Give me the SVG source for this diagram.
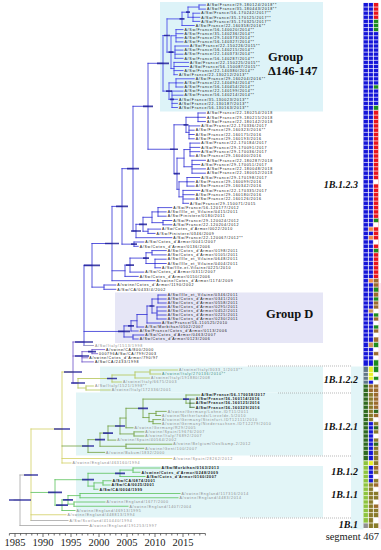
<svg xmlns="http://www.w3.org/2000/svg" width="381" height="550" viewBox="0 0 381 550">
<style>
.t{font-family:"Liberation Sans",Arial,sans-serif;font-size:3.6px;letter-spacing:0.7px;fill:#111}
.gr{fill:#8a8a8a}
.tl{fill:#3a8a78}
.b{font-weight:bold;letter-spacing:0.6px}
.cl{font-family:"Liberation Serif","Times New Roman",serif;font-weight:bold;font-style:italic;font-size:10px;fill:#111;text-anchor:end}
.gp{font-family:"Liberation Serif","Times New Roman",serif;font-weight:bold;font-size:12.5px;fill:#111}
.ax{font-family:"Liberation Serif","Times New Roman",serif;font-size:10.5px;fill:#222;text-anchor:middle}
.br{fill:none;stroke-width:0.8;stroke-linecap:square}
.hpd{fill:none;stroke:#23239a;stroke-width:1.7;stroke-opacity:0.85}
.dot{fill:none;stroke:#8a8a8a;stroke-width:0.6;stroke-dasharray:1 1}
</style>
<rect width="381" height="550" fill="#fff"/>
<g id="background">
<rect x="160" y="2" width="163" height="109.5" fill="#ddf3f8"/>
<rect x="115" y="292.5" width="208" height="50.5" fill="#e6e6f6"/>
<rect x="100" y="366.5" width="223" height="26" fill="#e2f5f7"/>
<rect x="76" y="392.5" width="247" height="63" fill="#e2f5f7"/>
<rect x="76" y="466" width="247" height="51.5" fill="#e2f5f7"/>
<rect x="351" y="366.5" width="12.5" height="163" fill="#e2f5f7"/>
<rect x="378.3" y="283" width="2.7" height="246" fill="#fde6ef"/>
</g>
<g id="connectors">
<path class="br" stroke="#3c3ce6" d="M199 5H205.4M199 9.1H205.4M199 5V9.1M193 13.2H199.8M193 17.3H199.8M193 21.4H199.8M193 13.2V21.4M188 7.05H199M188 17.3H193M188 7.05V17.3M182 12.2H188M182 25.5H194.2M182 12.2V25.5M176 29.6H183M176 33.7H183M176 37.8H183M176 41.9H183M176 29.6V41.9M175 46H188.6M175 50.1H183M175 54.2H183M175 58.3H183M175 46V58.3M174 62.4H188.6M174 66.5H188.6M174 70.6H183M174 74.7H177.4M174 62.4V74.7M171 35.75H176M171 52.15H175M171 68.55H174M171 35.75V68.55M167 18.9H182M167 52.15H171M167 18.9V52.15M176 78.8H194.2M176 82.9H183M176 87H183M176 78.8V87M172 91.1H183M172 95.2H183M172 99.3H177.4M172 103.4H177.4M172 107.5H177.4M172 91.1V107.5M169 82.9H176M169 99.3H172M169 82.9V99.3M163 35.5H167M163 91.1H169M163 35.5V91.1"/>
<path class="br" stroke="#3030d4" d="M148 63.3H163M148 149.25H174M148 63.3V149.25M174 124.8H186M174 173.7H177M174 124.8V173.7M186 117.3H198M186 132.35H189M186 117.3V132.35M198 113H205.4M198 117.3H205.4M198 121.6H205.4M198 113V121.6M189 125.9H199.8M189 130.2H194.2M189 134.5H194.2M189 138.8H194.2M189 125.9V138.8M177 158.15H184M177 189.3H179M177 158.15V189.3M184 149.55H190M184 166.75H192M184 149.55V166.75M190 143.1H199.8M190 147.4H199.8M190 151.7H199.8M190 156H194.2M190 143.1V156M192 160.3H205.4M192 164.6H199.8M192 168.9H205.4M192 173.2H205.4M192 160.3V173.2M179 181.8H187M179 196.85H183M179 181.8V196.85M187 177.5H199.8M187 181.8H194.2M187 186.1H194.2M187 177.5V186.1M183 190.4H199.8M183 194.7H194.2M183 199H194.2M183 203.3H188.6M183 190.4V203.3M133 106.3H148M133 231H136M133 106.3V231M136 224.3H143M136 237.7H171.8M136 224.3V237.7M143 217.3H152M143 231.25H148M143 217.3V231.25M152 211.9H158M152 222.65H163M152 211.9V222.65M158 207.6H171.8M158 211.9H166.2M158 216.2H166.2M158 207.6V216.2M163 220.5H171.8M163 224.8H171.8M163 220.5V224.8M148 229.1H160.6M148 233.4H155M148 229.1V233.4M122 168.65H133M122 244.15H134M122 168.65V244.15M134 242H143.8M134 246.3H138.2M134 242V246.3M112 206.4H122M112 270.75H125M112 280.7H155M112 206.4V280.7M152 250.6H166.2M152 254.9H166.2M152 250.6V254.9M155 259.2H166.2M155 263.5H166.2M155 267.8H160.6M155 259.2V267.8M146 252.75H152M146 263.5H155M146 252.75V263.5M130 258.1H146M130 272.1H143.8M130 258.1V272.1M125 265.1H130M125 276.4H138.2M125 265.1V276.4M104 285H115.8M104 289.3H115.8M104 285V289.3M92 243.5H112M92 287.15H104M92 243.5V287.15M158 295H166.2M158 299H166.2M158 303H166.2M158 295V303M157 307H166.2M157 311H166.2M157 315H166.2M157 319H166.2M157 307V319M152 299H158M152 313H157M152 299V313M147 306H152M147 323H160.6M147 306V323M137 314.5H147M137 327H143.8M137 314.5V327M131 320.75H137M131 331H138.2M131 320.75V331M133 335H143.8M133 339H138.2M133 335V339M124 325.9H131M124 337H133M124 325.9V337M84 265.3H92M84 331.45H124M84 265.3V345.5"/>
<path class="br" stroke="#8a8ab8" d="M84 345.5H93.4"/>
<path class="br" stroke="#6a4fc8" d="M92 349.6H104.6M92 353.7H97.5M92 349.6V353.7M82 351.65H92M82 357.8H87.8M82 361.9H93.4M82 351.65V361.9M73 342H84M73 356H82M73 383H78M73 342V383"/>
<path class="br" stroke="#b4c454" d="M150 370H177.4M150 374H160.6M150 370V374M135 372H150M135 378H149.4M135 372V378M112 375H135M112 382H121.4M112 375V382M86 386H93.4M86 390H110.2M86 386V390M78 378.5H112M78 388H86M78 378.5V388"/>
<path class="br" stroke="#d2cf62" d="M62 372H73M62 372V463M62 458.5H171.8M62 463H71M31 429H62M31 429V520.5M31 514.75H66"/>
<path class="br" stroke="#72a040" d="M186 395H199.8M186 403.2H190M186 395V403.2M143 399.1H186M143 417.55H149M143 399.1V417.55M149 413.45H156M149 421.65H153M149 413.45V421.65M156 411.4H166.2M156 415.5H160.6M156 411.4V415.5M153 419.6H160.6M153 423.7H160.6M153 419.6V423.7M126 408.3H143M126 427.8H133M126 408.3V427.8M134 431.9H143.8M134 436H143.8M134 431.9V436M120 418.05H126M120 433.95H134M120 418.05V433.95M108 426H120M108 440.1H115.8M108 426V440.1M126 444.2H171.8M126 448.3H143.8M126 444.2V448.3M100 433.05H108M100 446.25H126M100 433.05V446.25M88 439.65H100M88 452.4H104.6M88 439.65V452.4M62 446H88"/>
<path class="br" stroke="#3d6b2a" d="M190 399.1H194.2M190 403.2H194.2M190 407.3H194.2M190 399.1V407.3"/>
<path class="br" stroke="#5cc25c" d="M133 468H160M133 472.25H140M133 468V472.25M120 470.1H133M120 476.5H145M120 470.1V476.5M103 480.75H111M103 485H110M103 480.75V485M94 482.9H103M94 489.25H98M94 482.9V489.25M88 473.3H120M88 486.1H94M88 473.3V486.1M80 493.5H180M80 497.75H178M80 493.5V497.75M74 502H105M74 506.25H128M74 502V506.25M68 495.6H80M68 504.1H74M68 495.6V504.1M62 499.85H68M62 510.5H75M62 499.85V510.5M55 479.7H88M55 505.2H62M55 479.7V505.2M31 492.45H55"/>
<path class="br" stroke="#a6a6a6" d="M31 520.5H68M20 475H31M20 475V525.5M20 525.5H88M14 500H20"/>
</g>
<g id="hpd-bars">
<path class="hpd" d="M157 63.3h12M164 35.5h6M166 91.1h6M168.5 52.15h5M179.5 18.9h5M186 12.2h4M170 99.3h4M143 106.3h10M170 149.25h8M174 173.7h6M183.5 124.8h5M127 168.65h12M131 231h10M139 224.3h8M116 206.4h12M105 243.5h14M84 265.3h16M131 244.15h6M126 265.1h8M143 258.1h6M118 331.45h12M128 325.9h6M149.5 306h5M75 342h18M75 356h14M88 351.65h8M64 372h18M71 383h14M107 378.5h10M54 429h16M82 446h12M95 439.65h10M103 433.05h10M115 426h10M138 408.3h10M183 399.1h6M48 492.45h14M82 479.7h12M115 473.3h10M56 505.2h12M63 499.85h10M24 475h14M9 500h22"/>
</g>
<g id="tip-labels" transform="translate(0,-0.6)">
<g id="clade-group-delta" class="t">
<text x="206.9" y="6.9">A/Sw/France/29-180124/2018**</text>
<text x="206.9" y="11">A/Sw/France/35-180443/2018**</text>
<text x="201.3" y="15.1">A/Sw/France/56-170242/2017**</text>
<text x="201.3" y="19.2">A/Sw/France/35-170125/2017**</text>
<text x="201.3" y="23.3">A/Sw/France/35-170325/2017**</text>
<text x="195.7" y="27.4">A/Sw/France/22-160358/2016**</text>
<text x="184.5" y="31.5">A/Sw/France/56-140020/2014**</text>
<text x="184.5" y="35.6">A/Sw/France/35-140236/2014**</text>
<text x="184.5" y="39.7">A/Sw/France/29-140373/2014**</text>
<text x="184.5" y="43.8">A/Sw/France/56-140327/2014**</text>
<text x="190.1" y="47.9">A/Sw/France/22-150226/2015**</text>
<text x="184.5" y="52">A/Sw/France/56-140215/2014**</text>
<text x="184.5" y="56.1">A/Sw/France/22-140373/2014**</text>
<text x="184.5" y="60.2">A/Sw/France/56-140287/2014**</text>
<text x="190.1" y="64.3">A/Sw/France/22-150225/2015**</text>
<text x="190.1" y="68.4">A/Sw/France/56-150087/2015**</text>
<text x="184.5" y="72.5">A/Sw/France/22-140380/2014**</text>
<text x="178.9" y="76.6">A/Sw/France/22-130212/2013**</text>
<text x="195.7" y="80.7">A/Sw/France/29-160204/2016**</text>
<text x="184.5" y="84.8">A/Sw/France/22-140494/2014**</text>
<text x="184.5" y="88.9">A/Sw/France/56-140454/2014**</text>
<text x="184.5" y="93">A/Sw/France/22-140199/2014**</text>
<text x="184.5" y="97.1">A/Sw/France/56-140214/2014**</text>
<text x="178.9" y="101.2">A/Sw/France/35-130023/2013**</text>
<text x="178.9" y="105.3">A/Sw/France/22-130187/2013**</text>
<text x="178.9" y="109.4">A/Sw/France/56-130163/2013**</text>
</g>
<g id="clade-1B123" class="t">
<text x="206.9" y="114.9">A/Sw/France/22-180254/2018</text>
<text x="206.9" y="119.2">A/Sw/France/29-180215/2018</text>
<text x="206.9" y="123.5">A/Sw/France/22-180142/2018</text>
<text x="201.3" y="127.8">A/Sw/France/22-170336/2017</text>
<text x="195.7" y="132.1">A/Sw/France/29-160323/2016**</text>
<text x="195.7" y="136.4">A/Sw/France/22-160175/2016</text>
<text x="195.7" y="140.7">A/Sw/France/29-160193/2016</text>
<text x="201.3" y="145">A/Sw/France/22-170184/2017</text>
<text x="201.3" y="149.3">A/Sw/France/29-170091/2017</text>
<text x="201.3" y="153.6">A/Sw/France/29-170036/2017</text>
<text x="195.7" y="157.9">A/Sw/France/29-160400/2016</text>
<text x="206.9" y="162.2">A/Sw/France/22-180287/2018</text>
<text x="201.3" y="166.5">A/Sw/France/29-170051/2017</text>
<text x="206.9" y="170.8">A/Sw/France/22-180048/2018</text>
<text x="206.9" y="175.1">A/Sw/France/22-180052/2018</text>
<text x="201.3" y="179.4">A/Sw/France/29-170198/2017</text>
<text x="195.7" y="183.7">A/Sw/France/29-160099/2016</text>
<text x="195.7" y="188">A/Sw/France/29-160342/2016</text>
<text x="201.3" y="192.3">A/Sw/France/22-170335/2017</text>
<text x="195.7" y="196.6">A/Sw/France/29-160180/2016</text>
<text x="195.7" y="200.9">A/Sw/France/22-160126/2016</text>
<text x="190.1" y="205.2">A/Sw/France/29-150071/2015</text>
<text x="173.3" y="209.5">A/Sw/France/56-120177/2012</text>
<text x="167.7" y="213.8">A/Sw/Ille_et_Vilaine/0415/2011</text>
<text x="167.7" y="218.1">A/Sw/Finistere/0180/2011</text>
<text x="173.3" y="222.4">A/Sw/France/29-120024/2012</text>
<text x="173.3" y="226.7">A/Sw/France/22-120204/2012</text>
<text x="162.1" y="231">A/Sw/Cotes_d'Armor/0022/2010</text>
<text x="156.5" y="235.3">A/Sw/Finistere/0346/2009</text>
<text x="173.3" y="239.6">A/Sw/France/22-120067/2012**</text>
<text x="145.3" y="243.9">A/Sw/Cotes_d'Armor/0041/2007</text>
<text x="139.7" y="248.2">A/Sw/Cotes_d'Armor/0136/2006</text>
<text x="167.7" y="252.5">A/Sw/Cotes_d'Armor/0198/2011</text>
<text x="167.7" y="256.8">A/Sw/Cotes_d'Armor/0105/2011</text>
<text x="167.7" y="261.1">A/Sw/Ille_et_Vilaine/0648/2011</text>
<text x="167.7" y="265.4">A/Sw/Ille_et_Vilaine/0404/2011</text>
<text x="162.1" y="269.7">A/Sw/Ille-et-Vilaine/0225/2010</text>
<text x="145.3" y="274">A/Sw/Cotes_d'Armor/0311/2007</text>
<text x="139.7" y="278.3">A/Sw/Cotes_d'Armor/0150/2006</text>
<text x="156.5" y="282.6">A/swine/Cotes_d'Armor/1174/2009</text>
<text x="117.3" y="286.9">A/swine/Cotes_d'Armor/1190/2002</text>
<text x="117.3" y="291.2">A/Sw/CA/0433/4/2002</text>
</g>
<g id="clade-group-d" class="t">
<text x="167.7" y="296.9">A/Sw/Ille_et_Vilaine/0346/2011</text>
<text x="167.7" y="300.9">A/Sw/Cotes_d'Armor/0341/2011</text>
<text x="167.7" y="304.9">A/Sw/Cotes_d'Armor/0558/2011</text>
<text x="167.7" y="308.9">A/Sw/Cotes_d'Armor/0295/2011</text>
<text x="167.7" y="312.9">A/Sw/Cotes_d'Armor/0452/2011</text>
<text x="167.7" y="316.9">A/Sw/Cotes_d'Armor/0225/2011</text>
<text x="167.7" y="320.9">A/Sw/Cotes_d'Armor/0230/2011</text>
<text x="162.1" y="324.9">A/Sw/France/56-110525/2010</text>
<text x="145.3" y="328.9">A/Sw/Morbihan/0502/2007</text>
<text x="139.7" y="332.9">A/Sw/France/Cotes_d'Armor/0113/2006</text>
<text x="145.3" y="336.9">A/Sw/Cotes_d'Armor/0463/2007</text>
<text x="139.7" y="340.9">A/Sw/Cotes_d'Armor/0123/2006</text>
</g>
<g id="clade-ca" class="t">
<text class="t gr" x="94.9" y="347.4">A/Sw/Italy/1513/1998</text>
<text x="106.1" y="351.5">A/swine/CA/800/2000</text>
<text x="99" y="355.6">000796A/Sw/CA/799/2003</text>
<text x="89.3" y="359.7">A/swine/Cotes_d'Armor/790/97</text>
<text x="94.9" y="363.8">A/Sw/CA/2433/1998</text>
</g>
<g id="clade-1B122" class="t gr">
<text x="178.9" y="371.9">A/swine/Italy/3033_1/2013**</text>
<text class="t tl" x="162.1" y="375.9">A/swine/Italy/270136/2010**</text>
<text x="150.9" y="379.9">A/swine/Italy/191880/2008</text>
<text x="122.9" y="383.9">A/swine/Italy/6675/2003</text>
<text x="94.9" y="387.9">A/Sw/Italy/1521/1998**</text>
<text x="111.7" y="391.9">A/swine/Italy/172336/2001</text>
</g>
<g id="clade-1B121" class="t gr">
<text class="t b" x="201.3" y="396.9">A/Sw/France/56-170058/2017</text>
<text class="t b" x="195.7" y="401">A/Sw/France/56-160114/2016</text>
<text class="t b" x="195.7" y="405.1">A/Sw/France/56-160125/2016</text>
<text class="t b" x="195.7" y="409.2">A/Sw/France/56-160329/2016</text>
<text x="167.7" y="413.3">A/swine/Germany/Lohne-IDT11/2011</text>
<text x="162.1" y="417.4">A/swine/Netherlands/Lievelde-5/2010</text>
<text x="162.1" y="421.5">A/swine/Germany/Steinfurt-IDT12111/2010</text>
<text x="162.1" y="425.6">A/swine/Germany/Niedersachsen-IDT12279/2010</text>
<text x="134.5" y="429.7">A/swine/Germany/R29/2005</text>
<text x="145.3" y="433.8">A/swine/Spain/19676/2007</text>
<text x="145.3" y="437.9">A/swine/Italy/76892/2007</text>
<text x="117.3" y="442">A/swine/Spain/40564/2002</text>
<text x="173.3" y="446.1">A/swine/Belgium/Ooslkamp-2/2012</text>
<text x="145.3" y="450.2">A/swine/Gent/100/2007</text>
<text x="106.1" y="454.3">A/swine/Bakum/1832/2000</text>
</g>
<g id="clade-1B12" class="t gr">
<text x="173.3" y="460.4">A/swine/Spain/28262/2012</text>
<text x="72.5" y="464.9">A/swine/England/463160/1994</text>
</g>
<g id="clade-1B11" class="t">
<text class="t b" x="161.5" y="469.9">A/Sw/Morbihan/0163/2013</text>
<text class="t b" x="141.5" y="474.15">A/swine/Cotes_d'Armor/0248/2009</text>
<text class="t b" x="146.5" y="478.4">A/Sw/Cotes_d'Armor/0160/2007</text>
<text class="t b" x="112.5" y="482.65">A/Sw/CA/0874/2001</text>
<text class="t b" x="111.5" y="486.9">A/Sw/CA/0025/2001</text>
<text class="t b" x="99.5" y="491.15">A/Sw/CA/0004/1999</text>
<text class="t gr" x="181.5" y="495.4">A/swine/England/117316/2014</text>
<text class="t gr" x="179.5" y="499.65">A/swine/England/4483/2014</text>
<text class="t gr" x="106.5" y="503.9">A/swine/England/1677/2000</text>
<text class="t gr" x="129.5" y="508.15">A/swine/England/1407/2004</text>
<text class="t gr" x="76.5" y="512.4">A/swine/England/46913/1995</text>
<text class="t gr" x="67.5" y="516.65">A/swine/England/448813/1994</text>
</g>
<g id="clade-1B1" class="t gr">
<text x="69.5" y="522.4">A/Sw/Scotland/410440/1994</text>
<text x="89.5" y="527.4">A/swine/England/191253/1997</text>
</g>
</g>
<g id="separators">
<path class="dot" d="M248 366H352M278 393H352M250 456H352M240 518H352"/>
</g>
<g id="segments">
<rect x="363.5" y="2.95" width="4.8" height="363.25" fill="#1515d8"/>
<rect x="363.5" y="366.2" width="4.8" height="17.95" fill="#607888"/>
<rect x="363.5" y="384.15" width="4.8" height="76.6" fill="#2f6a1f"/>
<rect x="363.5" y="460.75" width="4.8" height="62.25" fill="#8dc43e"/>
<rect x="363.5" y="523" width="4.8" height="5" fill="#909090"/>
<rect x="368.5" y="2.95" width="4.8" height="363.25" fill="#1515d8"/>
<rect x="368.5" y="226.95" width="4.8" height="4.3" fill="#f08848"/>
<rect x="368.5" y="235.55" width="4.8" height="4.3" fill="#f08848"/>
<rect x="368.5" y="278.55" width="4.8" height="4.3" fill="#f08848"/>
<rect x="368.5" y="309" width="4.8" height="4" fill="#c8925a"/>
<rect x="368.5" y="342.25" width="4.8" height="5.3" fill="#c8925a"/>
<rect x="368.5" y="366.2" width="4.8" height="14.05" fill="#e8f028"/>
<rect x="368.5" y="380.25" width="4.8" height="3.9" fill="#1515d8"/>
<rect x="368.5" y="384.15" width="4.8" height="8.35" fill="#9c6b2e"/>
<rect x="368.5" y="392.5" width="4.8" height="29.15" fill="#8a7a2a"/>
<rect x="368.5" y="421.65" width="4.8" height="39.1" fill="#1515d8"/>
<rect x="368.5" y="460.75" width="4.8" height="4.75" fill="#e8f028"/>
<rect x="368.5" y="465.5" width="4.8" height="17.375" fill="#1515d8"/>
<rect x="368.5" y="482.875" width="4.8" height="45.125" fill="#8a7a2a"/>
<rect x="373.5" y="2.95" width="4.8" height="16.4" fill="#e8141c"/>
<rect x="373.5" y="19.35" width="4.8" height="12.3" fill="#1e8c1e"/>
<rect x="373.5" y="31.65" width="4.8" height="53.3" fill="#1515d8"/>
<rect x="373.5" y="84.95" width="4.8" height="4.1" fill="#1e8c1e"/>
<rect x="373.5" y="89.05" width="4.8" height="16.4" fill="#1515d8"/>
<rect x="373.5" y="105.45" width="4.8" height="4.8" fill="#1e8c1e"/>
<rect x="373.5" y="110.25" width="4.8" height="181.9" fill="#e8141c"/>
<rect x="373.5" y="179.65" width="4.8" height="4.3" fill="#fff"/>
<rect x="373.5" y="218.35" width="4.8" height="4.3" fill="#1e8c1e"/>
<rect x="373.5" y="222.65" width="4.8" height="4.3" fill="#fff"/>
<rect x="373.5" y="239.85" width="4.8" height="4.3" fill="#fff"/>
<rect x="373.5" y="248.45" width="4.8" height="4.3" fill="#1e8c1e"/>
<rect x="373.5" y="278.55" width="4.8" height="8.6" fill="#9c6b2e"/>
<rect x="373.5" y="287.15" width="4.8" height="5" fill="#1e8c1e"/>
<rect x="373.5" y="292.15" width="4.8" height="4.85" fill="#9c6b2e"/>
<rect x="373.5" y="297" width="4.8" height="4" fill="#1e8c1e"/>
<rect x="373.5" y="301" width="4.8" height="8" fill="#9c6b2e"/>
<rect x="373.5" y="313" width="4.8" height="4" fill="#1e8c1e"/>
<rect x="373.5" y="317" width="4.8" height="4" fill="#9c6b2e"/>
<rect x="373.5" y="325" width="4.8" height="4" fill="#1e8c1e"/>
<rect x="373.5" y="329" width="4.8" height="4" fill="#9c6b2e"/>
<rect x="373.5" y="337" width="4.8" height="5.25" fill="#9c6b2e"/>
<rect x="373.5" y="342.25" width="4.8" height="5.3" fill="#1e8c1e"/>
<rect x="373.5" y="351.65" width="4.8" height="4.1" fill="#9c6b2e"/>
<rect x="373.5" y="359.85" width="4.8" height="6.35" fill="#1e8c1e"/>
<rect x="373.5" y="366.2" width="4.8" height="6.25" fill="#1e8c1e"/>
<rect x="373.5" y="376.35" width="4.8" height="3.9" fill="#1e8c1e"/>
<rect x="373.5" y="384.15" width="4.8" height="25.2" fill="#9c6b2e"/>
<rect x="373.5" y="409.35" width="4.8" height="4.1" fill="#2f6a1f"/>
<rect x="373.5" y="413.45" width="4.8" height="4.1" fill="#9c6b2e"/>
<rect x="373.5" y="421.65" width="4.8" height="4.1" fill="#8a7a2a"/>
<rect x="373.5" y="425.75" width="4.8" height="4.1" fill="#2f6a1f"/>
<rect x="373.5" y="429.85" width="4.8" height="4.1" fill="#8a7a2a"/>
<rect x="373.5" y="438.05" width="4.8" height="4.1" fill="#8a7a2a"/>
<rect x="373.5" y="442.15" width="4.8" height="4.1" fill="#2f6a1f"/>
<rect x="373.5" y="446.25" width="4.8" height="19.25" fill="#8a7a2a"/>
<rect x="373.5" y="465.5" width="4.8" height="4.625" fill="#9c6b2e"/>
<rect x="373.5" y="470.125" width="4.8" height="4.25" fill="#8a7a2a"/>
<rect x="373.5" y="478.625" width="4.8" height="4.25" fill="#8a7a2a"/>
<rect x="373.5" y="482.875" width="4.8" height="4.25" fill="#9c6b2e"/>
<rect x="373.5" y="491.375" width="4.8" height="8.5" fill="#8a7a2a"/>
<rect x="373.5" y="504.125" width="4.8" height="4.25" fill="#9c6b2e"/>
<rect x="373.5" y="508.375" width="4.8" height="9.25" fill="#8a7a2a"/>
<rect x="373.5" y="523" width="4.8" height="5" fill="#8a7a2a"/>
<path fill="none" stroke="#fff" stroke-width="0.7" d="M368.4 2.95V528M373.4 2.95V528M363.5 7.05h14.8M363.5 11.15h14.8M363.5 15.25h14.8M363.5 19.35h14.8M363.5 23.45h14.8M363.5 27.55h14.8M363.5 31.65h14.8M363.5 35.75h14.8M363.5 39.85h14.8M363.5 43.95h14.8M363.5 48.05h14.8M363.5 52.15h14.8M363.5 56.25h14.8M363.5 60.35h14.8M363.5 64.45h14.8M363.5 68.55h14.8M363.5 72.65h14.8M363.5 76.75h14.8M363.5 80.85h14.8M363.5 84.95h14.8M363.5 89.05h14.8M363.5 93.15h14.8M363.5 97.25h14.8M363.5 101.35h14.8M363.5 105.45h14.8M363.5 110.25h14.8M363.5 115.15h14.8M363.5 119.45h14.8M363.5 123.75h14.8M363.5 128.05h14.8M363.5 132.35h14.8M363.5 136.65h14.8M363.5 140.95h14.8M363.5 145.25h14.8M363.5 149.55h14.8M363.5 153.85h14.8M363.5 158.15h14.8M363.5 162.45h14.8M363.5 166.75h14.8M363.5 171.05h14.8M363.5 175.35h14.8M363.5 179.65h14.8M363.5 183.95h14.8M363.5 188.25h14.8M363.5 192.55h14.8M363.5 196.85h14.8M363.5 201.15h14.8M363.5 205.45h14.8M363.5 209.75h14.8M363.5 214.05h14.8M363.5 218.35h14.8M363.5 222.65h14.8M363.5 226.95h14.8M363.5 231.25h14.8M363.5 235.55h14.8M363.5 239.85h14.8M363.5 244.15h14.8M363.5 248.45h14.8M363.5 252.75h14.8M363.5 257.05h14.8M363.5 261.35h14.8M363.5 265.65h14.8M363.5 269.95h14.8M363.5 274.25h14.8M363.5 278.55h14.8M363.5 282.85h14.8M363.5 287.15h14.8M363.5 292.15h14.8M363.5 297h14.8M363.5 301h14.8M363.5 305h14.8M363.5 309h14.8M363.5 313h14.8M363.5 317h14.8M363.5 321h14.8M363.5 325h14.8M363.5 329h14.8M363.5 333h14.8M363.5 337h14.8M363.5 342.25h14.8M363.5 347.55h14.8M363.5 351.65h14.8M363.5 355.75h14.8M363.5 359.85h14.8M363.5 366.2h14.8M363.5 372.45h14.8M363.5 376.35h14.8M363.5 380.25h14.8M363.5 384.15h14.8M363.5 388.05h14.8M363.5 392.5h14.8M363.5 397.05h14.8M363.5 401.15h14.8M363.5 405.25h14.8M363.5 409.35h14.8M363.5 413.45h14.8M363.5 417.55h14.8M363.5 421.65h14.8M363.5 425.75h14.8M363.5 429.85h14.8M363.5 433.95h14.8M363.5 438.05h14.8M363.5 442.15h14.8M363.5 446.25h14.8M363.5 450.35h14.8M363.5 455.45h14.8M363.5 460.75h14.8M363.5 465.5h14.8M363.5 470.1h14.8M363.5 474.4h14.8M363.5 478.6h14.8M363.5 482.9h14.8M363.5 487.1h14.8M363.5 491.4h14.8M363.5 495.6h14.8M363.5 499.9h14.8M363.5 504.1h14.8M363.5 508.4h14.8M363.5 512.6h14.8M363.5 517.6h14.8M363.5 523h14.8"/>
</g>
<g id="clade-labels">
<text class="gp" x="268" y="61">Group</text>
<text class="gp" x="268" y="75">Δ146-147</text>
<text class="gp" x="266" y="318">Group D</text>
<text class="cl" x="358" y="188">1B.1.2.3</text>
<text class="cl" x="358" y="382.5">1B.1.2.2</text>
<text class="cl" x="358" y="430">1B.1.2.1</text>
<text class="cl" x="358" y="475">1B.1.2</text>
<text class="cl" x="358" y="498">1B.1.1</text>
<text class="cl" x="358" y="528">1B.1</text>
<text class="ax" x="379" y="540" style="text-anchor:end">segment 467</text>
</g>
<g id="axis">
<path fill="none" stroke="#333" stroke-width="0.7" d="M9.4 533.5H205.4M15 533.5v3.5M43 533.5v3.5M71 533.5v3.5M99 533.5v3.5M127 533.5v3.5M155 533.5v3.5M183 533.5v3.5M9.4 533.5v2M20.6 533.5v2M26.2 533.5v2M31.8 533.5v2M37.4 533.5v2M48.6 533.5v2M54.2 533.5v2M59.8 533.5v2M65.4 533.5v2M76.6 533.5v2M82.2 533.5v2M87.8 533.5v2M93.4 533.5v2M104.6 533.5v2M110.2 533.5v2M115.8 533.5v2M121.4 533.5v2M132.6 533.5v2M138.2 533.5v2M143.8 533.5v2M149.4 533.5v2M160.6 533.5v2M166.2 533.5v2M171.8 533.5v2M177.4 533.5v2M188.6 533.5v2M194.2 533.5v2M199.8 533.5v2M205.4 533.5v2"/>
<text class="ax" x="15" y="546">1985</text>
<text class="ax" x="43" y="546">1990</text>
<text class="ax" x="71" y="546">1995</text>
<text class="ax" x="99" y="546">2000</text>
<text class="ax" x="127" y="546">2005</text>
<text class="ax" x="155" y="546">2010</text>
<text class="ax" x="183" y="546">2015</text>
</g>
</svg>
